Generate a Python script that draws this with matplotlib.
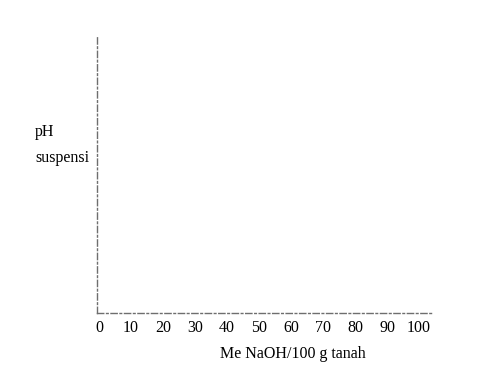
import matplotlib
matplotlib.use('Agg')
import matplotlib.pyplot as plt

x_ticks = [0, 10, 20, 30, 40, 50, 60, 70, 80, 90, 100]
x_labels = [str(v) for v in x_ticks]
y_label_lines = ['pH', 'suspensi']
x_title = 'Me NaOH/100 g tanah'

plt.rcParams['font.family'] = ['Liberation Serif', 'DejaVu Serif']

fig = plt.figure(figsize=(5.04, 3.76), dpi=100)
ax = fig.add_axes([97 / 504, 1 - 313 / 376, 335 / 504, 278 / 376])

ax.set_xlim(-0.625, 104.06)
ax.set_ylim(0, 1)

for side in ['top', 'right']:
    ax.spines[side].set_visible(False)
for side in ['left', 'bottom']:
    ax.spines[side].set_linestyle((0, (4.5, 2, 1.2, 2)))
    ax.spines[side].set_color('#6e6e6e')
    ax.spines[side].set_linewidth(1.0)

ax.set_xticks(x_ticks)
ax.set_xticklabels(x_labels, fontsize=11.5)
ax.tick_params(axis='x', length=0, pad=5)
ax.set_yticks([])

fig.text(35 / 504, 1 - 132 / 376, y_label_lines[0], fontsize=11.5, ha='left', va='center')
fig.text(35 / 504, 1 - 158 / 376, y_label_lines[1], fontsize=11.5, ha='left', va='center')
fig.text(293 / 504, 1 - 354 / 376, x_title, fontsize=11.5, ha='center', va='center')

fig.savefig('out.png', dpi=100)
plt.close(fig)
